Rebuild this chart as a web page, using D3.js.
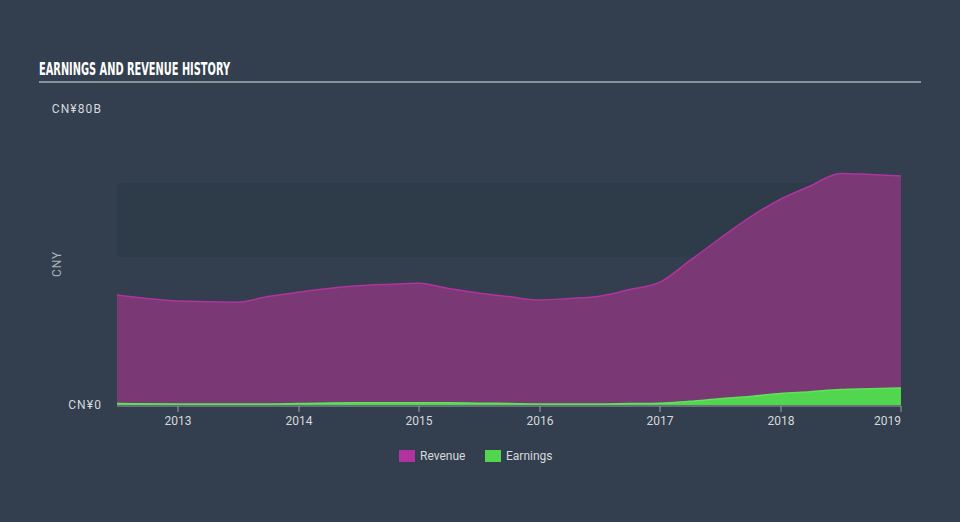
<!DOCTYPE html>
<html>
<head>
<meta charset="utf-8">
<script src="https://cdn.jsdelivr.net/npm/d3@7"></script>
<style>
  html, body { margin: 0; padding: 0; background: #333f4e; }
  svg { display: block; }
</style>
</head>
<body>
<svg id="chart" width="960" height="522"></svg>
<script>
// quarterly history, values in CN¥ billions
const dates = [
  "2012-06-30", "2012-12-31", "2013-06-30", "2013-09-30", "2013-12-31",
  "2014-06-30", "2014-09-30", "2014-12-31", "2015-03-31", "2015-06-30",
  "2015-09-30", "2015-12-31", "2016-03-31", "2016-06-30", "2016-09-30",
  "2016-12-31", "2017-03-31", "2017-06-30", "2017-09-30", "2017-12-31",
  "2018-03-31", "2018-06-30", "2018-09-30", "2018-12-31"
];
const revenue = [
  29.7, 28.1, 27.8, 29.3, 30.5,
  32.2, 32.6, 32.9, 31.5, 30.3,
  29.3, 28.4, 28.8, 29.4, 31.2,
  33.2, 39.0, 45.0, 50.8, 55.6,
  59.2, 62.6, 62.3, 61.9
];
const earnings = [
  0.4, 0.3, 0.3, 0.3, 0.4,
  0.6, 0.6, 0.6, 0.6, 0.5,
  0.4, 0.3, 0.3, 0.3, 0.4,
  0.5, 1.0, 1.7, 2.3, 3.1,
  3.6, 4.2, 4.4, 4.6
];
const yearTicks = [2013, 2014, 2015, 2016, 2017, 2018, 2019];
const yTickLabels = [[0, "CN¥0"], [80, "CN¥80B"]];
const legendItems = [["Revenue", "#b0339f"], ["Earnings", "#52d64f"]];

const parse = d3.timeParse("%Y-%m-%d");
const rows = dates.map((d, i) => ({ date: parse(d), rev: revenue[i], earn: earnings[i] }));

const svg = d3.select("#chart");
const plotLeft = 117, plotRight = 901, plotTop = 109, plotBottom = 405;

const x = d3.scaleTime()
  .domain([parse("2012-06-30"), parse("2018-12-31")])
  .range([plotLeft, plotRight]);
const y = d3.scaleLinear().domain([0, 80]).range([plotBottom, plotTop]);

// title
svg.append("text")
  .attr("x", 39).attr("y", 75)
  .attr("fill", "#ffffff")
  .style("font-family", "'Liberation Sans Narrow', 'DejaVu Sans Condensed', sans-serif")
  .style("font-weight", "bold")
  .style("font-size", "17px")
  .attr("textLength", 191)
  .attr("lengthAdjust", "spacingAndGlyphs")
  .text("EARNINGS AND REVENUE HISTORY");

svg.append("line")
  .attr("x1", 39).attr("x2", 921)
  .attr("y1", 82).attr("y2", 82)
  .attr("stroke", "#a7adb4").attr("stroke-width", 1.5);

// shaded band 40B–60B
svg.append("rect")
  .attr("x", plotLeft).attr("width", plotRight - plotLeft)
  .attr("y", y(60)).attr("height", y(40) - y(60))
  .attr("fill", "#2e3b49");

const curve = d3.curveMonotoneX;

svg.append("path")
  .datum(rows)
  .attr("fill", "#7a3874")
  .attr("d", d3.area().curve(curve).x(d => x(d.date)).y0(y(0)).y1(d => y(d.rev)));

svg.append("path")
  .datum(rows)
  .attr("fill", "none")
  .attr("stroke", "#b0339f")
  .attr("stroke-width", 1.5)
  .attr("d", d3.line().curve(curve).x(d => x(d.date)).y(d => y(d.rev)));

svg.append("path")
  .datum(rows)
  .attr("fill", "#52d64f")
  .attr("d", d3.area().curve(curve).x(d => x(d.date)).y0(y(0)).y1(d => y(d.earn)));

svg.append("path")
  .datum(rows)
  .attr("fill", "none")
  .attr("stroke", "#5ae657")
  .attr("stroke-width", 1.5)
  .attr("d", d3.line().curve(curve).x(d => x(d.date)).y(d => y(d.earn)));

// x axis
const xAxis = svg.append("g").attr("transform", `translate(0,${plotBottom + 1})`);
xAxis.append("line")
  .attr("x1", plotLeft).attr("x2", plotRight)
  .attr("stroke", "#9aa1a9").attr("stroke-width", 1);

const tickG = xAxis.selectAll("g.tick")
  .data(yearTicks)
  .join("g")
  .attr("class", "tick")
  .attr("transform", d => `translate(${Math.round(x(new Date(d, 0, 1)))},0)`);

tickG.append("line").attr("y2", 6).attr("stroke", "#9aa1a9");
tickG.append("text")
  .attr("y", 19)
  .attr("fill", "#d5d9dd")
  .attr("text-anchor", (d, i) => i === yearTicks.length - 1 ? "end" : "middle")
  .style("font-family", "Roboto, 'Open Sans', sans-serif")
  .style("font-size", "12px")
  .text(d => d);

// y labels
svg.selectAll("text.ylab")
  .data(yTickLabels)
  .join("text")
  .attr("class", "ylab")
  .attr("x", 102)
  .attr("y", d => y(d[0]) + 4)
  .attr("text-anchor", "end")
  .attr("fill", "#d5d9dd")
  .style("font-family", "Roboto, 'Open Sans', sans-serif")
  .style("font-size", "12px")
  .style("letter-spacing", "1.1px")
  .text(d => d[1]);

svg.append("text")
  .attr("transform", "translate(61,264) rotate(-90)")
  .attr("text-anchor", "middle")
  .attr("fill", "#aab1b8")
  .style("font-family", "Roboto, 'Open Sans', sans-serif")
  .style("font-size", "12px")
  .style("letter-spacing", "0.8px")
  .text("CNY");

// legend
const legend = svg.append("g");
const legendX = [399, 485];
legendItems.forEach(([name, color], i) => {
  legend.append("rect")
    .attr("x", legendX[i]).attr("y", 450)
    .attr("width", 16).attr("height", 12)
    .attr("fill", color);
  legend.append("text")
    .attr("x", legendX[i] + 21).attr("y", 460)
    .attr("fill", "#d5d9dd")
    .style("font-family", "Roboto, 'Open Sans', sans-serif")
    .style("font-size", "12px")
    .text(name);
});
</script>
</body>
</html>
